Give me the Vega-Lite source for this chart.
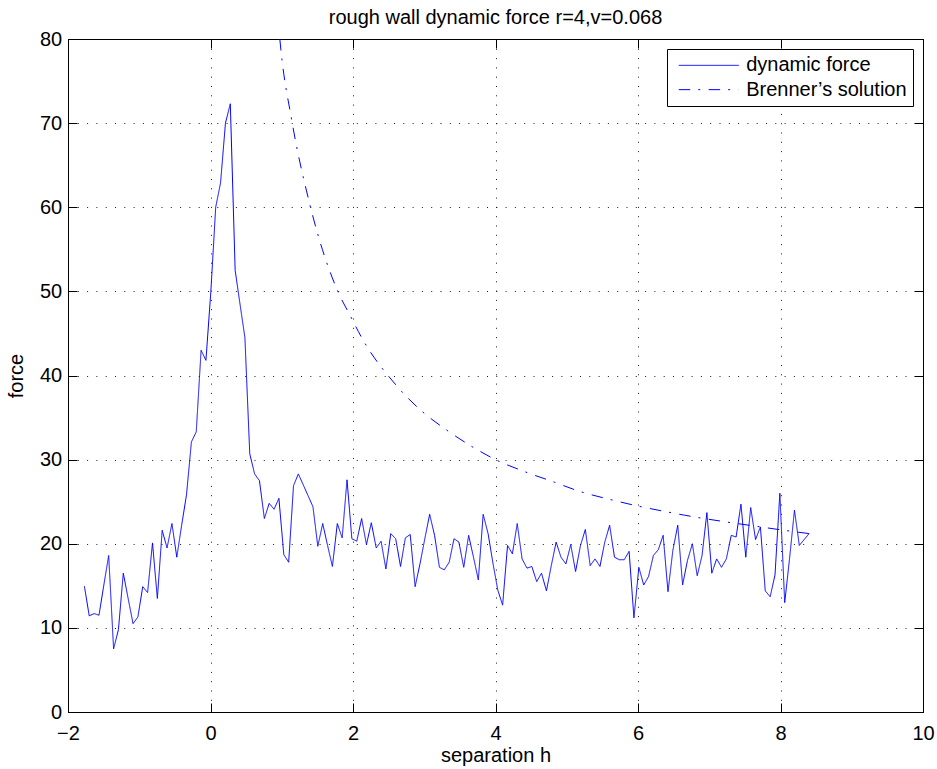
{
  "$schema": "https://vega.github.io/schema/vega-lite/v6.json",
  "width": 855,
  "height": 673,
  "autosize": {"type": "none"},
  "padding": {"left": 68, "top": 39, "right": 14, "bottom": 57},
  "background": "white",
  "title": {"text": "rough wall dynamic force r=4,v=0.068", "font": "Liberation Sans", "fontSize": 20, "fontWeight": "normal", "color": "black", "baseline": "alphabetic", "offset": -14.5},
  "config": {
    "view": {"stroke": "black", "strokeWidth": 1},
    "axis": {"domainColor": "black", "domainWidth": 1, "tickColor": "black", "tickWidth": 1, "tickSize": -9, "labelFont": "Liberation Sans", "labelFontSize": 20, "labelColor": "black", "labelFlush": false, "titleFont": "Liberation Sans", "titleFontSize": 20, "titleFontWeight": "normal", "titleColor": "black", "gridColor": "black", "gridDash": [1, 8.3], "gridOpacity": 0.9, "gridWidth": 1},
    "legend": {"orient": "top-right", "offset": 10, "strokeColor": "black", "fillColor": "white", "padding": 6.35, "symbolType": "M-30,0H30", "symbolSize": 4, "symbolStrokeWidth": 1, "symbolOffset": 25.4, "labelOffset": 27.4, "labelLimit": 0, "labelFont": "Liberation Sans", "labelFontSize": 20, "labelColor": "black", "rowPadding": 4.3, "title": null}
  },
  "resolve": {"axis": {"x": "independent", "y": "independent"}},
  "layer": [
    {
      "data": {"values": [
        {"h": -1.770, "force": 14.95, "series": "dynamic force"},
        {"h": -1.702, "force": 11.43, "series": "dynamic force"},
        {"h": -1.633, "force": 11.7, "series": "dynamic force"},
        {"h": -1.565, "force": 11.5, "series": "dynamic force"},
        {"h": -1.497, "force": 15.1, "series": "dynamic force"},
        {"h": -1.429, "force": 18.6, "series": "dynamic force"},
        {"h": -1.360, "force": 7.5, "series": "dynamic force"},
        {"h": -1.292, "force": 9.8, "series": "dynamic force"},
        {"h": -1.224, "force": 16.5, "series": "dynamic force"},
        {"h": -1.156, "force": 13.5, "series": "dynamic force"},
        {"h": -1.087, "force": 10.5, "series": "dynamic force"},
        {"h": -1.019, "force": 11.3, "series": "dynamic force"},
        {"h": -0.951, "force": 14.9, "series": "dynamic force"},
        {"h": -0.883, "force": 14.2, "series": "dynamic force"},
        {"h": -0.814, "force": 20.1, "series": "dynamic force"},
        {"h": -0.746, "force": 13.5, "series": "dynamic force"},
        {"h": -0.678, "force": 21.6, "series": "dynamic force"},
        {"h": -0.610, "force": 19.5, "series": "dynamic force"},
        {"h": -0.541, "force": 22.4, "series": "dynamic force"},
        {"h": -0.473, "force": 18.4, "series": "dynamic force"},
        {"h": -0.405, "force": 22.2, "series": "dynamic force"},
        {"h": -0.337, "force": 25.8, "series": "dynamic force"},
        {"h": -0.268, "force": 32.1, "series": "dynamic force"},
        {"h": -0.200, "force": 33.3, "series": "dynamic force"},
        {"h": -0.132, "force": 43.0, "series": "dynamic force"},
        {"h": -0.064, "force": 41.8, "series": "dynamic force"},
        {"h": 0.005, "force": 50.0, "series": "dynamic force"},
        {"h": 0.073, "force": 60.0, "series": "dynamic force"},
        {"h": 0.141, "force": 62.9, "series": "dynamic force"},
        {"h": 0.210, "force": 70.0, "series": "dynamic force"},
        {"h": 0.278, "force": 72.3, "series": "dynamic force"},
        {"h": 0.346, "force": 52.5, "series": "dynamic force"},
        {"h": 0.414, "force": 48.5, "series": "dynamic force"},
        {"h": 0.483, "force": 44.5, "series": "dynamic force"},
        {"h": 0.551, "force": 30.7, "series": "dynamic force"},
        {"h": 0.619, "force": 28.3, "series": "dynamic force"},
        {"h": 0.687, "force": 27.5, "series": "dynamic force"},
        {"h": 0.756, "force": 23.0, "series": "dynamic force"},
        {"h": 0.824, "force": 24.8, "series": "dynamic force"},
        {"h": 0.892, "force": 24.1, "series": "dynamic force"},
        {"h": 0.960, "force": 25.4, "series": "dynamic force"},
        {"h": 1.029, "force": 18.7, "series": "dynamic force"},
        {"h": 1.097, "force": 17.8, "series": "dynamic force"},
        {"h": 1.165, "force": 26.9, "series": "dynamic force"},
        {"h": 1.233, "force": 28.3, "series": "dynamic force"},
        {"h": 1.302, "force": 27.0, "series": "dynamic force"},
        {"h": 1.370, "force": 25.7, "series": "dynamic force"},
        {"h": 1.438, "force": 24.4, "series": "dynamic force"},
        {"h": 1.506, "force": 19.7, "series": "dynamic force"},
        {"h": 1.575, "force": 22.4, "series": "dynamic force"},
        {"h": 1.643, "force": 19.8, "series": "dynamic force"},
        {"h": 1.711, "force": 17.3, "series": "dynamic force"},
        {"h": 1.780, "force": 22.4, "series": "dynamic force"},
        {"h": 1.848, "force": 20.7, "series": "dynamic force"},
        {"h": 1.916, "force": 27.6, "series": "dynamic force"},
        {"h": 1.984, "force": 20.6, "series": "dynamic force"},
        {"h": 2.053, "force": 20.3, "series": "dynamic force"},
        {"h": 2.121, "force": 23.0, "series": "dynamic force"},
        {"h": 2.189, "force": 19.9, "series": "dynamic force"},
        {"h": 2.257, "force": 22.5, "series": "dynamic force"},
        {"h": 2.326, "force": 19.5, "series": "dynamic force"},
        {"h": 2.394, "force": 20.3, "series": "dynamic force"},
        {"h": 2.462, "force": 17.0, "series": "dynamic force"},
        {"h": 2.530, "force": 21.2, "series": "dynamic force"},
        {"h": 2.599, "force": 20.6, "series": "dynamic force"},
        {"h": 2.667, "force": 17.3, "series": "dynamic force"},
        {"h": 2.735, "force": 20.7, "series": "dynamic force"},
        {"h": 2.803, "force": 21.1, "series": "dynamic force"},
        {"h": 2.872, "force": 14.9, "series": "dynamic force"},
        {"h": 2.940, "force": 17.6, "series": "dynamic force"},
        {"h": 3.008, "force": 20.6, "series": "dynamic force"},
        {"h": 3.076, "force": 23.5, "series": "dynamic force"},
        {"h": 3.145, "force": 21.0, "series": "dynamic force"},
        {"h": 3.213, "force": 17.2, "series": "dynamic force"},
        {"h": 3.281, "force": 16.9, "series": "dynamic force"},
        {"h": 3.350, "force": 17.8, "series": "dynamic force"},
        {"h": 3.418, "force": 20.6, "series": "dynamic force"},
        {"h": 3.486, "force": 20.2, "series": "dynamic force"},
        {"h": 3.554, "force": 17.2, "series": "dynamic force"},
        {"h": 3.623, "force": 21.0, "series": "dynamic force"},
        {"h": 3.691, "force": 18.4, "series": "dynamic force"},
        {"h": 3.759, "force": 15.7, "series": "dynamic force"},
        {"h": 3.827, "force": 23.5, "series": "dynamic force"},
        {"h": 3.896, "force": 21.2, "series": "dynamic force"},
        {"h": 3.964, "force": 17.7, "series": "dynamic force"},
        {"h": 4.032, "force": 14.5, "series": "dynamic force"},
        {"h": 4.100, "force": 12.7, "series": "dynamic force"},
        {"h": 4.169, "force": 19.8, "series": "dynamic force"},
        {"h": 4.237, "force": 18.8, "series": "dynamic force"},
        {"h": 4.305, "force": 22.4, "series": "dynamic force"},
        {"h": 4.373, "force": 18.2, "series": "dynamic force"},
        {"h": 4.442, "force": 17.1, "series": "dynamic force"},
        {"h": 4.510, "force": 17.3, "series": "dynamic force"},
        {"h": 4.578, "force": 15.5, "series": "dynamic force"},
        {"h": 4.646, "force": 16.5, "series": "dynamic force"},
        {"h": 4.715, "force": 14.4, "series": "dynamic force"},
        {"h": 4.783, "force": 17.4, "series": "dynamic force"},
        {"h": 4.851, "force": 20.2, "series": "dynamic force"},
        {"h": 4.919, "force": 18.4, "series": "dynamic force"},
        {"h": 4.988, "force": 17.6, "series": "dynamic force"},
        {"h": 5.056, "force": 19.9, "series": "dynamic force"},
        {"h": 5.124, "force": 16.7, "series": "dynamic force"},
        {"h": 5.193, "force": 19.8, "series": "dynamic force"},
        {"h": 5.261, "force": 21.7, "series": "dynamic force"},
        {"h": 5.329, "force": 17.4, "series": "dynamic force"},
        {"h": 5.397, "force": 18.2, "series": "dynamic force"},
        {"h": 5.466, "force": 17.3, "series": "dynamic force"},
        {"h": 5.534, "force": 20.2, "series": "dynamic force"},
        {"h": 5.602, "force": 22.2, "series": "dynamic force"},
        {"h": 5.670, "force": 18.4, "series": "dynamic force"},
        {"h": 5.739, "force": 18.1, "series": "dynamic force"},
        {"h": 5.807, "force": 18.1, "series": "dynamic force"},
        {"h": 5.875, "force": 19.1, "series": "dynamic force"},
        {"h": 5.943, "force": 11.2, "series": "dynamic force"},
        {"h": 6.012, "force": 17.2, "series": "dynamic force"},
        {"h": 6.080, "force": 15.1, "series": "dynamic force"},
        {"h": 6.148, "force": 16.1, "series": "dynamic force"},
        {"h": 6.216, "force": 18.6, "series": "dynamic force"},
        {"h": 6.285, "force": 19.3, "series": "dynamic force"},
        {"h": 6.353, "force": 21.0, "series": "dynamic force"},
        {"h": 6.421, "force": 14.3, "series": "dynamic force"},
        {"h": 6.489, "force": 19.2, "series": "dynamic force"},
        {"h": 6.558, "force": 22.2, "series": "dynamic force"},
        {"h": 6.626, "force": 15.1, "series": "dynamic force"},
        {"h": 6.694, "force": 18.0, "series": "dynamic force"},
        {"h": 6.763, "force": 20.0, "series": "dynamic force"},
        {"h": 6.831, "force": 16.2, "series": "dynamic force"},
        {"h": 6.899, "force": 18.6, "series": "dynamic force"},
        {"h": 6.967, "force": 23.7, "series": "dynamic force"},
        {"h": 7.036, "force": 16.5, "series": "dynamic force"},
        {"h": 7.104, "force": 18.2, "series": "dynamic force"},
        {"h": 7.172, "force": 17.2, "series": "dynamic force"},
        {"h": 7.240, "force": 18.2, "series": "dynamic force"},
        {"h": 7.309, "force": 21.0, "series": "dynamic force"},
        {"h": 7.377, "force": 20.8, "series": "dynamic force"},
        {"h": 7.445, "force": 24.7, "series": "dynamic force"},
        {"h": 7.513, "force": 18.4, "series": "dynamic force"},
        {"h": 7.582, "force": 24.3, "series": "dynamic force"},
        {"h": 7.650, "force": 20.5, "series": "dynamic force"},
        {"h": 7.718, "force": 22.0, "series": "dynamic force"},
        {"h": 7.786, "force": 14.4, "series": "dynamic force"},
        {"h": 7.855, "force": 13.7, "series": "dynamic force"},
        {"h": 7.923, "force": 16.3, "series": "dynamic force"},
        {"h": 7.991, "force": 26.0, "series": "dynamic force"},
        {"h": 8.059, "force": 13.0, "series": "dynamic force"},
        {"h": 8.128, "force": 18.3, "series": "dynamic force"},
        {"h": 8.196, "force": 24.0, "series": "dynamic force"},
        {"h": 8.264, "force": 19.8, "series": "dynamic force"},
        {"h": 8.332, "force": 20.5, "series": "dynamic force"},
        {"h": 8.401, "force": 21.2, "series": "dynamic force"}
      ]},
      "mark": {"type": "line", "strokeWidth": 1},
      "encoding": {
        "x": {"field": "h", "type": "quantitative", "scale": {"domain": [-2, 10], "nice": false, "zero": false}, "axis": {"title": "separation h", "values": [-2, 0, 2, 4, 6, 8, 10], "grid": true, "labelPadding": 20, "titlePadding": 2.7}},
        "y": {"field": "force", "type": "quantitative", "scale": {"domain": [0, 80], "nice": false}, "axis": {"title": "force", "values": [0, 10, 20, 30, 40, 50, 60, 70, 80], "grid": true, "labelPadding": 15.3, "titlePadding": 13}},
        "color": {"field": "series", "type": "nominal", "scale": {"domain": ["dynamic force", "Brenner’s solution"], "range": ["#0000ff", "#0000ff"]}, "legend": {"title": null}},
        "strokeDash": {"field": "series", "type": "nominal", "scale": {"domain": ["dynamic force", "Brenner’s solution"], "range": [[1, 0], [11.5, 8, 2, 8.4]]}, "legend": {"title": null}}
      }
    },
    {
      "data": {"values": [
        {"h": 0.973, "force": 80.0, "series": "Brenner’s solution"},
        {"h": 0.987, "force": 78.8, "series": "Brenner’s solution"},
        {"h": 1.137, "force": 70.5, "series": "Brenner’s solution"},
        {"h": 1.398, "force": 60.2, "series": "Brenner’s solution"},
        {"h": 1.782, "force": 50.1, "series": "Brenner’s solution"},
        {"h": 1.968, "force": 47.0, "series": "Brenner’s solution"},
        {"h": 2.122, "force": 44.5, "series": "Brenner’s solution"},
        {"h": 2.6, "force": 38.9, "series": "Brenner’s solution"},
        {"h": 2.96, "force": 35.8, "series": "Brenner’s solution"},
        {"h": 3.3, "force": 33.6, "series": "Brenner’s solution"},
        {"h": 3.65, "force": 31.65, "series": "Brenner’s solution"},
        {"h": 4.0, "force": 30.0, "series": "Brenner’s solution"},
        {"h": 4.4, "force": 28.6, "series": "Brenner’s solution"},
        {"h": 4.8, "force": 27.4, "series": "Brenner’s solution"},
        {"h": 5.19, "force": 26.2, "series": "Brenner’s solution"},
        {"h": 5.59, "force": 25.3, "series": "Brenner’s solution"},
        {"h": 5.99, "force": 24.5, "series": "Brenner’s solution"},
        {"h": 6.4, "force": 23.8, "series": "Brenner’s solution"},
        {"h": 6.65, "force": 23.4, "series": "Brenner’s solution"},
        {"h": 7.23, "force": 22.6, "series": "Brenner’s solution"},
        {"h": 7.64, "force": 22.1, "series": "Brenner’s solution"},
        {"h": 8.05, "force": 21.6, "series": "Brenner’s solution"},
        {"h": 8.41, "force": 21.2, "series": "Brenner’s solution"}
      ]},
      "mark": {"type": "line", "strokeWidth": 1, "interpolate": "monotone"},
      "encoding": {
        "x": {"field": "h", "type": "quantitative", "axis": {"orient": "top", "labels": false, "title": null, "grid": false, "domain": false, "values": [-2, 0, 2, 4, 6, 8, 10]}},
        "y": {"field": "force", "type": "quantitative", "axis": {"orient": "right", "labels": false, "title": null, "grid": false, "domain": false, "values": [0, 10, 20, 30, 40, 50, 60, 70, 80]}},
        "color": {"field": "series", "type": "nominal", "legend": {"title": null}},
        "strokeDash": {"field": "series", "type": "nominal", "legend": {"title": null}}
      }
    }
  ]
}
